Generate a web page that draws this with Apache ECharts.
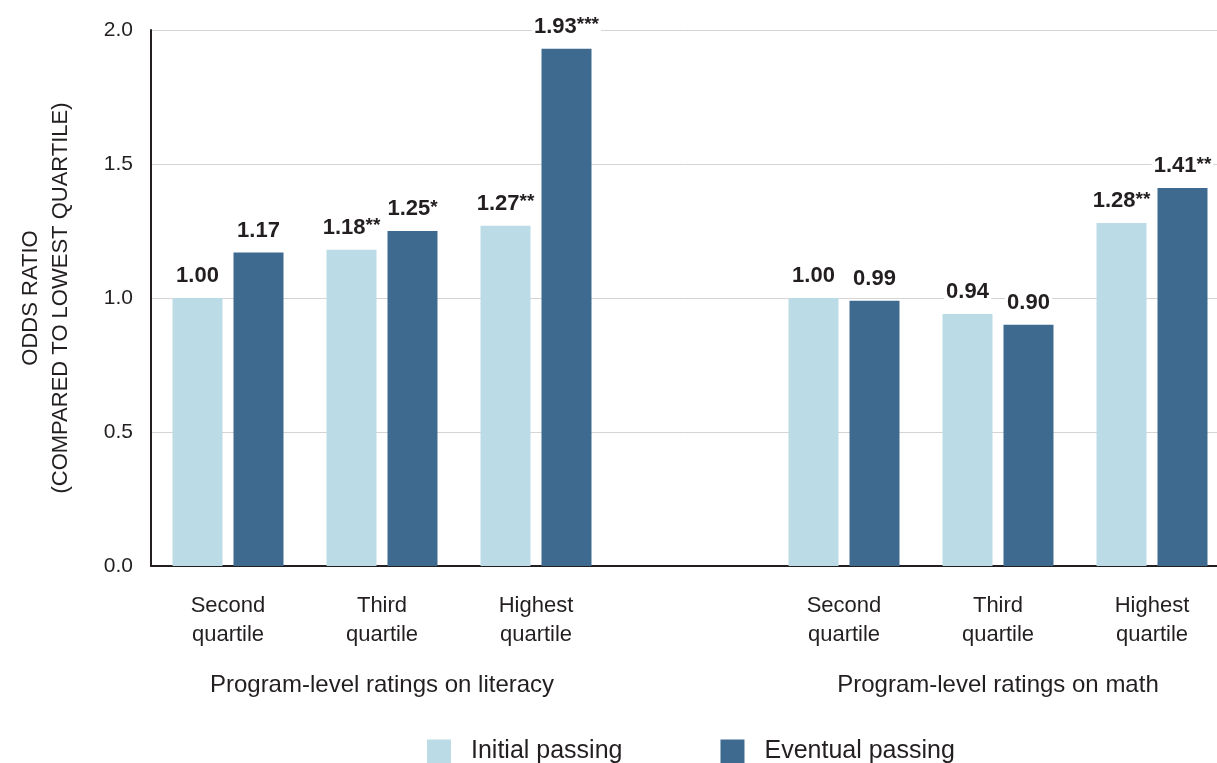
<!DOCTYPE html>
<html><head><meta charset="utf-8">
<script src="https://cdn.jsdelivr.net/npm/echarts@6/dist/echarts.min.js"></script>
<style>html,body{margin:0;padding:0;background:#fff}#c{width:1217px;height:763px}</style>
</head><body><div id="c"></div>
<script>
const categories = ['Second\nquartile','Third\nquartile','Highest\nquartile','','Second\nquartile','Third\nquartile','Highest\nquartile'];
const groupLabels = ['','Program-level ratings on literacy','','','','Program-level ratings on math',''];
const initialValues = [1.00, 1.18, 1.27, null, 1.00, 0.94, 1.28];
const eventualValues = [1.17, 1.25, 1.93, null, 0.99, 0.90, 1.41];
const initialStars = ['', '**', '**', '', '', '', '**'];
const eventualStars = ['', '*', '***', '', '', '', '**'];
const seriesNames = ['Initial passing', 'Eventual passing'];
const yTicks = [0, 0.5, 1.0, 1.5, 2.0];

const font = 'Liberation Sans';
function labelFor(stars) {
  return {
    show: true, position: 'top', distance: 11,
    backgroundColor: '#fff', padding: [1, 2, 0, 2],
    formatter: p => '{v|' + p.value.toFixed(2) + '}' + (stars[p.dataIndex] ? '{s|' + stars[p.dataIndex] + '}' : ''),
    rich: {
      v: {fontFamily: font, fontWeight: 'bold', fontSize: 22, color: '#231f20'},
      s: {fontFamily: font, fontWeight: 'bold', fontSize: 19, color: '#231f20', verticalAlign: 'top'}
    }
  };
}
const chart = echarts.init(document.getElementById('c'));
chart.setOption({
  animation: false,
  grid: {left: 151, right: -12, top: 30, bottom: 197, outerBoundsMode: 'none', containLabel: false},
  legend: {
    data: seriesNames, left: 422, bottom: -6, itemWidth: 24, itemHeight: 24, itemGap: 98,
    icon: 'rect',
    textStyle: {fontFamily: font, fontSize: 25, color: '#231f20', padding: [0, 0, 0, 15]}
  },
  xAxis: [{
    type: 'category', data: categories,
    axisLine: {lineStyle: {color: '#231f20', width: 2}},
    axisTick: {show: false},
    axisLabel: {fontFamily: font, fontSize: 22, color: '#231f20', lineHeight: 29, margin: 25, interval: 0}
  }, {
    type: 'category', data: groupLabels, position: 'bottom', offset: 0,
    axisLine: {show: false}, axisTick: {show: false},
    axisLabel: {fontFamily: font, fontSize: 24, color: '#231f20', margin: 107, interval: 0}
  }],
  yAxis: {
    type: 'value', min: 0, max: 2, interval: 0.5,
    name: 'ODDS RATIO\n(COMPARED TO LOWEST QUARTILE)', nameLocation: 'middle', nameGap: 75, nameRotate: 90,
    nameTextStyle: {fontFamily: font, fontSize: 22, color: '#231f20', lineHeight: 30},
    axisLine: {show: true, lineStyle: {color: '#231f20', width: 2}},
    axisTick: {show: false},
    splitLine: {lineStyle: {color: '#d4d4d4', width: 1}},
    axisLabel: {fontFamily: font, fontSize: 21, color: '#231f20', margin: 18,
      formatter: v => yTicks.includes(v) ? v.toFixed(1) : ''}
  },
  series: [{
    name: seriesNames[0], type: 'bar', xAxisIndex: 0, data: initialValues,
    barWidth: 50, barGap: '22%', itemStyle: {color: '#bbdce6'}, label: labelFor(initialStars)
  }, {
    name: seriesNames[1], type: 'bar', xAxisIndex: 0, data: eventualValues,
    barWidth: 50, barGap: '22%', itemStyle: {color: '#3e6a8f'}, label: labelFor(eventualStars)
  }]
});
</script></body></html>
